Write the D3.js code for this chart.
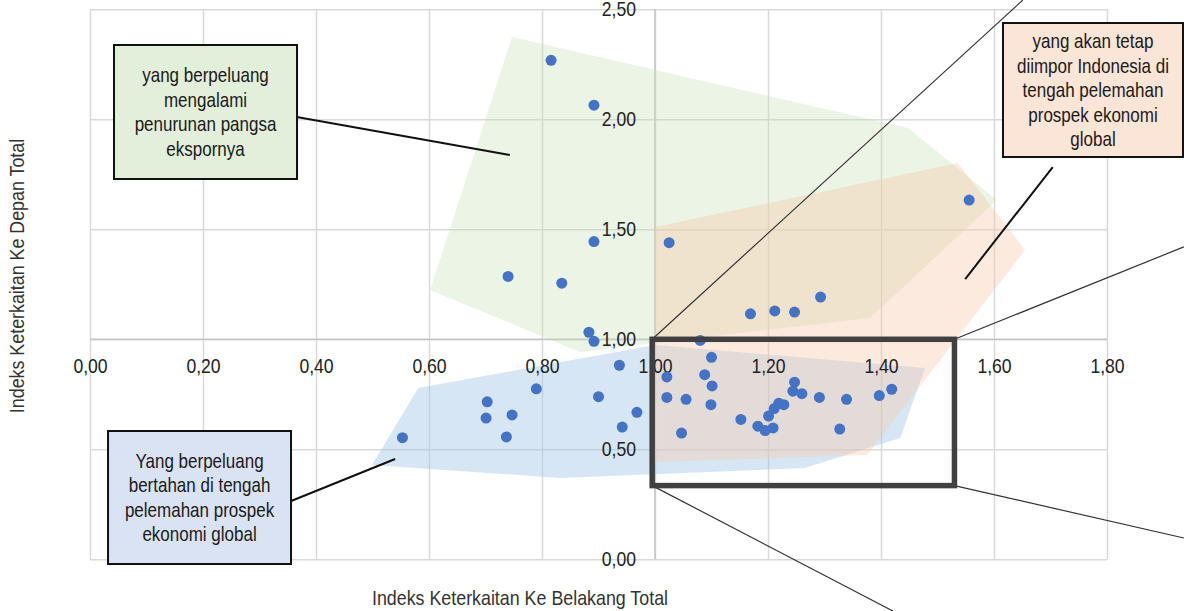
<!DOCTYPE html>
<html>
<head>
<meta charset="utf-8">
<script src="https://cdn.jsdelivr.net/npm/d3@7/dist/d3.min.js"></script>
<style>
  html, body { margin: 0; padding: 0; background: #fff; }
  svg { display: block; }
  text { font-family: "Liberation Sans", Arial, sans-serif; }
</style>
</head>
<body>
<svg id="chart" width="1184" height="611"></svg>
<script>
// Sector linkage indices: backward (x) vs forward (y)
const backwardLinkage = [0.816, 0.892, 0.892, 1.025, 0.740, 0.835, 0.883, 0.892, 0.937, 0.790,
  0.703, 0.701, 0.747, 0.737, 0.553, 0.900, 0.968, 0.942, 1.556, 1.169,
  1.212, 1.247, 1.293, 1.080, 1.100, 1.021, 1.088, 1.101, 1.021, 1.055,
  1.099, 1.047, 1.152, 1.182, 1.195, 1.209, 1.201, 1.211, 1.219, 1.228,
  1.247, 1.244, 1.260, 1.291, 1.339, 1.327, 1.397, 1.419];
const forwardLinkage = [2.268, 2.064, 1.444, 1.439, 1.286, 1.255, 1.032, 0.991, 0.882, 0.775,
  0.716, 0.642, 0.656, 0.556, 0.553, 0.739, 0.668, 0.601, 1.633, 1.116,
  1.129, 1.124, 1.192, 0.995, 0.918, 0.829, 0.839, 0.788, 0.736, 0.727,
  0.703, 0.574, 0.636, 0.605, 0.585, 0.597, 0.651, 0.685, 0.709, 0.703,
  0.805, 0.764, 0.753, 0.736, 0.727, 0.592, 0.744, 0.773];

// Axis ticks
const xTicks = [0, 0.2, 0.4, 0.6, 0.8, 1.0, 1.2, 1.4, 1.6, 1.8];
const yTicks = [0, 0.5, 1.0, 1.5, 2.0, 2.5];

// Group outlines (index space)
const groupDecline = [[0.747, 2.374], [1.448, 1.960], [1.605, 1.633], [1.381, 1.097], [1.0, 0.983], [0.867, 0.942], [0.602, 1.224]];
const groupImport = [[1.0, 1.510], [1.536, 1.801], [1.655, 1.406], [1.375, 0.474], [1.0, 0.442]];
const groupResilient = [[0.499, 0.429], [0.581, 0.779], [1.0, 0.974], [1.478, 0.870], [1.434, 0.551], [1.265, 0.415], [0.832, 0.370]];

// Highlighted window and its projection lines
const zoomBox = [[0.995, 0.335], [1.53, 1.0]];
const zoomRays = [
  [[0.995, 1.0], [1.651, 2.542]],
  [[1.53, 1.0], [1.936, 1.420]],
  [[1.53, 0.335], [1.936, 0.097]],
  [[0.995, 0.335], [1.421, -0.235]]
];

// Callout labels
const calloutDecline = ["yang berpeluang", "mengalami", "penurunan pangsa", "ekspornya"];
const calloutImport = ["yang akan tetap", "diimpor Indonesia di", "tengah pelemahan", "prospek ekonomi", "global"];
const calloutResilient = ["Yang berpeluang", "bertahan di tengah", "pelemahan prospek", "ekonomi global"];

const svg = d3.select("#chart");
const x = d3.scaleLinear().domain([0, 1.8]).range([90, 1107]);
const y = d3.scaleLinear().domain([0, 2.5]).range([559.3, 9.3]);
const fmt = d3.formatLocale({decimal: ",", thousands: ".", grouping: [3], currency: ["", ""]}).format(".2f");
const SQUEEZE = 0.85; // condensed lettering

// Gridlines
const grid = svg.append("g");
grid.append("g").attr("transform", `translate(0,${y(0)})`)
  .call(d3.axisBottom(x).tickValues(xTicks).tickSize(-(y(0) - y(2.5))).tickFormat(""))
  .call(g => g.select(".domain").remove())
  .call(g => g.selectAll("line").attr("stroke", "#d9d9d9").attr("stroke-width", 1.5));
grid.append("g").attr("transform", `translate(${x(0)},0)`)
  .call(d3.axisLeft(y).tickValues(yTicks).tickSize(-(x(1.8) - x(0))).tickFormat(""))
  .call(g => g.select(".domain").remove())
  .call(g => g.selectAll("line").attr("stroke", "#d9d9d9").attr("stroke-width", 1.5));

// Axis lines crossing at (1, 1)
svg.append("line").attr("x1", x(0)).attr("x2", x(1.8)).attr("y1", y(1)).attr("y2", y(1))
  .attr("stroke", "#c4c4c4").attr("stroke-width", 1.5);
svg.append("line").attr("x1", x(1)).attr("x2", x(1)).attr("y1", y(0)).attr("y2", y(2.5))
  .attr("stroke", "#c4c4c4").attr("stroke-width", 1.5);

// Group shading
const poly = pts => "M" + pts.map(p => `${x(p[0])},${y(p[1])}`).join("L") + "Z";
svg.append("path").attr("d", poly(groupDecline)).attr("fill", "#c5e0b4").attr("fill-opacity", 0.35);
svg.append("path").attr("d", poly(groupResilient)).attr("fill", "#9dc3e6").attr("fill-opacity", 0.42);
svg.append("path").attr("d", poly(groupImport)).attr("fill", "#f8cbad").attr("fill-opacity", 0.4);

// Tick labels
svg.append("g").attr("transform", `translate(0,${y(1)})`)
  .call(d3.axisBottom(x).tickValues(xTicks).tickSize(0).tickPadding(20).tickFormat(fmt))
  .call(g => g.select(".domain").remove())
  .call(g => g.selectAll("text").attr("fill", "#222").style("font-size", "20px")
    .attr("transform", "scale(0.88,1)"));
svg.append("g").attr("transform", `translate(${x(1)},0)`)
  .call(d3.axisLeft(y).tickValues(yTicks).tickSize(0).tickPadding(19).tickFormat(fmt))
  .call(g => g.select(".domain").remove())
  .call(g => g.selectAll("text").attr("fill", "#222").style("font-size", "20px")
    .attr("x", -19 / 0.88).attr("transform", "scale(0.88,1)"));

// Points
svg.append("g").selectAll("circle")
  .data(backwardLinkage.map((v, i) => [v, forwardLinkage[i]]))
  .join("circle")
  .attr("cx", d => x(d[0])).attr("cy", d => y(d[1])).attr("r", 5.5)
  .attr("fill", "#4472c4");

// Highlight window and projection rays
svg.append("g").selectAll("line").data(zoomRays).join("line")
  .attr("x1", d => x(d[0][0])).attr("y1", d => y(d[0][1]))
  .attr("x2", d => x(d[1][0])).attr("y2", d => y(d[1][1]))
  .attr("stroke", "#333").attr("stroke-width", 1.2);
svg.append("rect")
  .attr("x", x(zoomBox[0][0])).attr("y", y(zoomBox[1][1]))
  .attr("width", x(zoomBox[1][0]) - x(zoomBox[0][0]))
  .attr("height", y(zoomBox[0][1]) - y(zoomBox[1][1]))
  .attr("fill", "none").attr("stroke", "#404040").attr("stroke-width", 5.5);

// Callouts
function callout(lines, box, fill, leader) {
  const g = svg.append("g");
  g.append("line")
    .attr("x1", x(leader[0][0])).attr("y1", y(leader[0][1]))
    .attr("x2", x(leader[1][0])).attr("y2", y(leader[1][1]))
    .attr("stroke", "#111").attr("stroke-width", 2);
  const x0 = x(box[0]), x1 = x(box[2]), y0 = y(box[1]), y1 = y(box[3]);
  g.append("rect").attr("x", x0).attr("y", y0).attr("width", x1 - x0).attr("height", y1 - y0)
    .attr("fill", fill).attr("stroke", "#111").attr("stroke-width", 2);
  const lh = 24.5, cy = (y0 + y1) / 2, top = cy - (lines.length - 1) * lh / 2;
  g.selectAll("text.c").data(lines).join("text")
    .attr("transform", (d, i) => `translate(${(x0 + x1) / 2},${top + i * lh}) scale(${SQUEEZE},1)`)
    .attr("dy", "0.35em").attr("text-anchor", "middle")
    .attr("fill", "#1a1a1a").style("font-size", "20px").text(d => d);
}
callout(calloutDecline, [0.0425, 2.3377, 0.3664, 1.7286], "#e2efda", [[0.366, 2.010], [0.743, 1.838]]);
callout(calloutImport, [1.6159, 2.4377, 1.9345, 1.8286], "#fbe5d6", [[1.704, 1.783], [1.549, 1.274]]);
callout(calloutResilient, [0.0319, 0.5832, 0.3558, -0.0214], "#dae3f3", [[0.356, 0.265], [0.540, 0.456]]);

// Axis titles
svg.append("text").attr("transform", `translate(520,598) scale(${SQUEEZE},1)`).attr("dy", "0.35em")
  .attr("text-anchor", "middle").attr("fill", "#333").style("font-size", "21px")
  .text("Indeks Keterkaitan Ke Belakang Total");
svg.append("text").attr("transform", `translate(17,276) rotate(-90) scale(${SQUEEZE},1)`).attr("dy", "0.35em")
  .attr("text-anchor", "middle").attr("fill", "#333").style("font-size", "21px")
  .text("Indeks Keterkaitan Ke Depan Total");
</script>
</body>
</html>
